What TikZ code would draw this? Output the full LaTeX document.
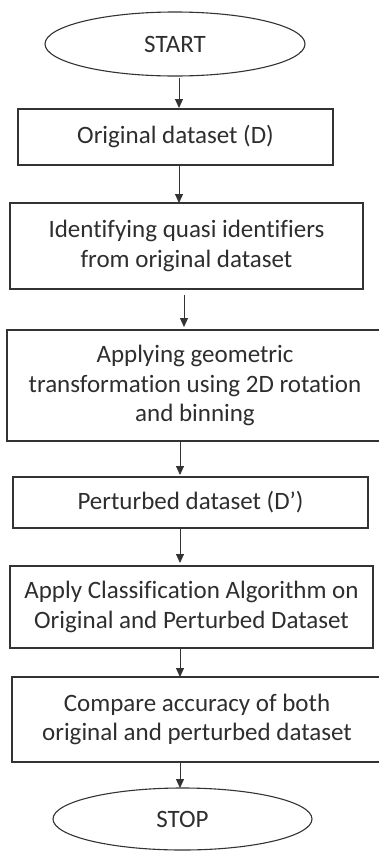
\documentclass[tikz,border=0pt]{standalone}
\usepackage{fontspec}
\setmainfont{Carlito}[Ligatures=NoCommon]
\usetikzlibrary{shapes.geometric,arrows.meta}
\tikzset{
  x=1pt,y=-1pt,
  txt/.style={font=\fontsize{25}{29.5}\selectfont,text=black!82},
  procbox/.style={txt,draw=black!80,line width=1.1pt,rectangle,inner sep=0pt,align=center},
  termnode/.style={txt,draw=black!80,line width=1.1pt,ellipse,inner sep=0pt},
  flow/.style={draw=black!80,line width=0.9pt,-{Triangle[length=9pt,width=8pt]}}
}
\begin{document}
\begin{tikzpicture}
\useasboundingbox (0,0) rectangle (379,852);
\clip (0,0) rectangle (379,852);
\node[termnode,minimum width=260pt,minimum height=64pt] (start) at (175,44) {START};
\node[procbox,minimum width=315pt,minimum height=56pt] (b1) at (175.5,137) {Original dataset (D)};
\node[procbox,minimum width=353pt,minimum height=86pt] (b2) at (186.5,246) {Identifying quasi identifiers\\from original dataset};
\node[procbox,minimum width=376pt,minimum height=111pt] (b3) at (195,385.5) {Applying geometric\\transformation using 2D rotation\\and binning};
\node[procbox,minimum width=355pt,minimum height=51pt] (b4) at (190.5,502.5) {Perturbed dataset (D’)};
\node[procbox,minimum width=363pt,minimum height=82pt] (b5) at (191.5,607) {Apply Classification Algorithm on\\Original and Perturbed Dataset};
\node[procbox,minimum width=370pt,minimum height=85pt] (b6) at (197,719.5) {Compare accuracy of both\\original and perturbed dataset};
\node[termnode,minimum width=259pt,minimum height=62pt] (stop) at (182.5,819) {STOP};
\coordinate (a0s) at (179,78); \coordinate (a0e) at (179,108);
\coordinate (a1s) at (179,165); \coordinate (a1e) at (179,203);
\coordinate (a2s) at (184,295); \coordinate (a2e) at (184,327);
\coordinate (a3s) at (180,441); \coordinate (a3e) at (180,475);
\coordinate (a4s) at (180,528); \coordinate (a4e) at (180,563);
\coordinate (a5s) at (180,648); \coordinate (a5e) at (180,677);
\coordinate (a6s) at (180,762); \coordinate (a6e) at (180,788);
\draw[flow] (a0s) -- (a0e);
\draw[flow] (a1s) -- (a1e);
\draw[flow] (a2s) -- (a2e);
\draw[flow] (a3s) -- (a3e);
\draw[flow] (a4s) -- (a4e);
\draw[flow] (a5s) -- (a5e);
\draw[flow] (a6s) -- (a6e);
\end{tikzpicture}
\end{document}
